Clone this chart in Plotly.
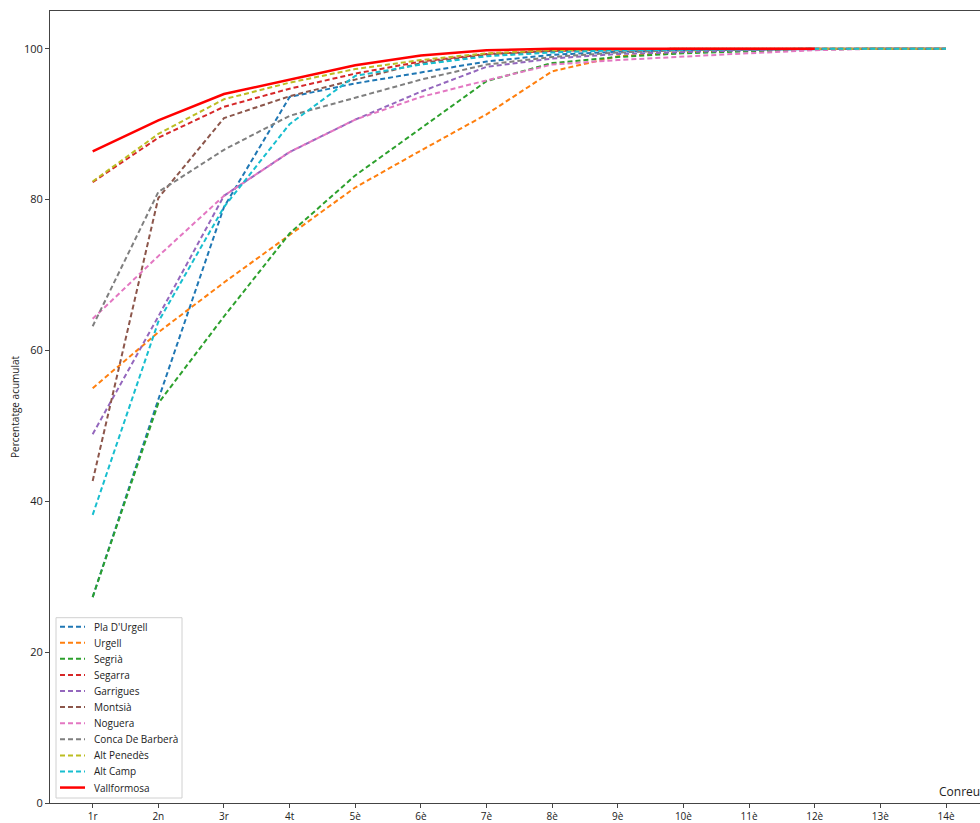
import plotly.graph_objects as go

categories = ["1r", "2n", "3r", "4t", "5è", "6è", "7è", "8è", "9è", "10è", "11è", "12è", "13è", "14è"]

pla_durgell = [27.3, 53.5, 79.0, 93.6, 95.4, 96.8, 98.3, 99.2, 99.6, 99.8, 99.9, 100, 100, 100]
urgell = [55.0, 62.4, 69.0, 75.3, 81.6, 86.5, 91.3, 97.0, 99.0, 99.5, 99.8, 100, 100, 100]
segria = [27.3, 53.0, 64.5, 75.5, 83.2, 89.5, 95.7, 98.1, 98.9, 99.4, 99.7, 99.9, 100, 100]
segarra = [82.3, 88.2, 92.3, 94.7, 96.7, 98.3, 99.3, 99.7, 99.9, 100, 100, 100, 100, 100]
garrigues = [48.9, 64.5, 80.5, 86.3, 90.6, 94.3, 97.6, 98.7, 99.3, 99.6, 99.8, 100, 100, 100]
montsia = [42.7, 80.2, 90.8, 93.7, 95.9, 98.1, 99.2, 99.7, 99.9, 100, 100, 100, 100, 100]
noguera = [64.2, 72.5, 80.5, 86.3, 90.6, 93.6, 95.8, 97.9, 98.5, 99.0, 99.4, 99.8, 100, 100]
conca = [63.2, 81.0, 86.6, 91.1, 93.5, 95.9, 97.9, 98.9, 99.5, 99.8, 99.9, 100, 100, 100]
alt_penedes = [82.4, 88.7, 93.3, 95.5, 97.3, 98.5, 99.4, 99.8, 99.9, 100, 100, 100, 100, 100]
alt_camp = [38.2, 63.8, 79.0, 90.0, 96.4, 97.9, 99.0, 99.5, 99.8, 99.9, 100, 100, 100, 100]
vallformosa = [86.4, 90.5, 94.0, 95.9, 97.8, 99.1, 99.8, 100, 100, 100, 100, 100]

series = [
    ("Pla D'Urgell", pla_durgell, "#1f77b4"),
    ("Urgell", urgell, "#ff7f0e"),
    ("Segrià", segria, "#2ca02c"),
    ("Segarra", segarra, "#d62728"),
    ("Garrigues", garrigues, "#9467bd"),
    ("Montsià", montsia, "#8c564b"),
    ("Noguera", noguera, "#e377c2"),
    ("Conca De Barberà", conca, "#7f7f7f"),
    ("Alt Penedès", alt_penedes, "#bcbd22"),
    ("Alt Camp", alt_camp, "#17becf"),
]
highlight = ("Vallformosa", vallformosa, "#ff0000")

FONT = "Open Sans"
DASH = "5px,3px"

W, H = 980, 823
ML, MR, MT, MB = 50, 0, 11, 17
PW = W - ML - MR
PH = H - MT - MB


def px_to_paper_x(px):
    return (px - ML) / PW


def px_to_paper_y(py):
    return (H - MB - py) / PH


fig = go.Figure()
for name, vals, color in series:
    fig.add_trace(go.Scatter(
        x=list(range(len(vals))), y=vals, name=name, mode="lines",
        line=dict(color=color, width=2, dash=DASH), showlegend=False,
    ))
fig.add_trace(go.Scatter(
    x=list(range(len(highlight[1]))), y=highlight[1], name=highlight[0], mode="lines",
    line=dict(color=highlight[2], width=2.5), showlegend=False,
))

# compact legend (matching reference entry spacing)
shapes = []
annotations = []
entries = [(n, c, DASH, 2) for n, _, c in series] + [(highlight[0], highlight[2], "solid", 2.5)]
box_left, box_right, box_top, box_bottom = 56, 182, 620, 801
shapes.append(dict(type="rect", xref="paper", yref="paper",
                   x0=px_to_paper_x(box_left), x1=px_to_paper_x(box_right),
                   y0=px_to_paper_y(box_bottom), y1=px_to_paper_y(box_top),
                   line=dict(color="#d0d0d0", width=1), fillcolor="white", layer="above"))
first_y, step = 629, 16.15
for i, (name, color, dash, w) in enumerate(entries):
    yy = first_y + i * step
    shapes.append(dict(type="line", xref="paper", yref="paper",
                       x0=px_to_paper_x(60), x1=px_to_paper_x(85),
                       y0=px_to_paper_y(yy), y1=px_to_paper_y(yy),
                       line=dict(color=color, width=w, dash=dash), layer="above"))
    annotations.append(dict(text=name, xref="paper", yref="paper",
                            x=px_to_paper_x(92), y=px_to_paper_y(yy),
                            xanchor="left", yanchor="middle", showarrow=False,
                            font=dict(family=FONT, size=10, color="#222")))

annotations += [
    dict(text="Conreus", xref="paper", yref="paper", x=px_to_paper_x(937), y=0,
         xanchor="left", yanchor="bottom", yshift=1, showarrow=False,
         font=dict(family=FONT, size=12, color="#222")),
    dict(text="Percentatge acumulat", xref="paper", yref="paper", x=px_to_paper_x(15), y=0.5,
         xanchor="center", yanchor="middle", textangle=-90, showarrow=False,
         font=dict(family=FONT, size=10, color="#222")),
]

fig.update_layout(
    width=W, height=H,
    margin=dict(l=ML, r=MR, t=MT, b=MB),
    paper_bgcolor="white", plot_bgcolor="white",
    font=dict(family=FONT, size=10, color="#222"),
    showlegend=False,
    xaxis=dict(
        range=[-0.65, 13.518],
        tickmode="array", tickvals=list(range(len(categories))), ticktext=categories,
        showgrid=False, zeroline=False,
        showline=True, linecolor="#444", linewidth=1, mirror=True,
        ticks="outside", ticklen=4, tickcolor="#444",
        tickfont=dict(family=FONT, size=10, color="#222"),
    ),
    yaxis=dict(
        range=[0, 105],
        tickvals=[0, 20, 40, 60, 80, 100],
        showgrid=False, zeroline=False,
        showline=True, linecolor="#444", linewidth=1,
        ticks="outside", ticklen=4, tickcolor="#444",
        tickfont=dict(family=FONT, size=11, color="#222"),
    ),
    shapes=shapes,
    annotations=annotations,
)

fig.write_html(
    "out.html",
    config={"displayModeBar": False},
    post_script="document.body.style.margin='0';document.body.style.overflow='hidden';",
)
